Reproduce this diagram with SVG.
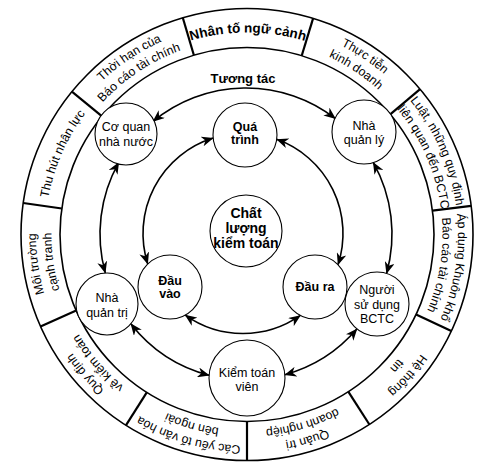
<svg xmlns="http://www.w3.org/2000/svg" xmlns:xlink="http://www.w3.org/1999/xlink" width="500" height="472" viewBox="0 0 500 472">
<style>
.ring{fill:none;stroke:#000;stroke-width:1.6}
.div{stroke:#000;stroke-width:2.2}
.node{fill:#fff;stroke:#000;stroke-width:1.1}
.arc{fill:none;stroke:#000;stroke-width:1.6;marker-start:url(#ah);marker-end:url(#ah)}
text{font-family:"Liberation Sans",Arial,sans-serif;fill:#000}
.rt{font-size:12.3px}
.nt{font-size:12.5px;text-anchor:middle}
.bt{font-size:12.5px;font-weight:bold;text-anchor:middle}
.ct{font-size:14px;font-weight:bold;text-anchor:middle}
</style>
<defs>
<marker id="ah" viewBox="0 0 12 10" refX="11.5" refY="5" markerWidth="12" markerHeight="10" markerUnits="userSpaceOnUse" orient="auto-start-reverse">
<path d="M0,0 L12,5 L0,10 L3.5,5 z" fill="#000"/>
</marker>
<path id="p1" d="M247,445.5 A211,211 0 1 1 247,23.5 A211,211 0 1 1 247,445.5"/>
<path id="p2" d="M247,430 A195.5,195.5 0 1 1 247,39 A195.5,195.5 0 1 1 247,430"/>
<path id="ps" d="M247,436.5 A202,202 0 1 1 247,32.5 A202,202 0 1 1 247,436.5"/>
</defs>
<rect width="500" height="472" fill="#fff"/>

<g id="context-ring">
<circle class="ring" cx="247" cy="234.5" r="226"/>
<circle class="ring" cx="247" cy="234.5" r="187"/>
<line class="div" x1="193.9" y1="55.2" x2="182.8" y2="17.8"/>
<line class="div" x1="301.7" y1="55.7" x2="313.1" y2="18.4"/>
<line class="div" x1="390.2" y1="114.3" x2="420.1" y2="89.2"/>
<line class="div" x1="432.5" y1="210.7" x2="471.2" y2="205.8"/>
<line class="div" x1="416.1" y1="314.4" x2="451.3" y2="331.1"/>
<line class="div" x1="348.3" y1="391.7" x2="369.4" y2="424.5"/>
<line class="div" x1="247" y1="421.5" x2="247" y2="460.5"/>
<line class="div" x1="146.8" y1="392.4" x2="125.9" y2="425.3"/>
<line class="div" x1="76.2" y1="310.6" x2="40.5" y2="326.4"/>
<line class="div" x1="61.8" y1="208.5" x2="23.2" y2="203.0"/>
<line class="div" x1="102.1" y1="116.3" x2="71.9" y2="91.7"/>
</g>

<g id="seg-nhan-to">
<text style="font-size:13.5px;font-weight:bold" text-anchor="middle"><textPath xlink:href="#ps" href="#ps" startOffset="50.07%">Nhân tố ngữ cảnh</textPath></text>
</g>
<g id="seg-thuc-tien">
<text class="rt" text-anchor="middle"><textPath xlink:href="#p1" href="#p1" startOffset="59.31%">Thực tiễn</textPath></text>
<text class="rt" text-anchor="middle"><textPath xlink:href="#p2" href="#p2" startOffset="59.31%">kinh doanh</textPath></text>
</g>
<g id="seg-luat">
<text class="rt" text-anchor="middle"><textPath xlink:href="#p1" href="#p1" startOffset="68.43%">Luật, những quy định</textPath></text>
<text class="rt" text-anchor="middle"><textPath xlink:href="#p2" href="#p2" startOffset="68.43%">liên quan đến BCTC</textPath></text>
</g>
<g id="seg-ap-dung">
<text class="rt" text-anchor="middle"><textPath xlink:href="#p1" href="#p1" startOffset="77.5%">Áp dụng Khuôn khổ</textPath></text>
<text class="rt" text-anchor="middle"><textPath xlink:href="#p2" href="#p2" startOffset="77.5%">Báo cáo tài chính</textPath></text>
</g>
<g id="seg-he-thong">
<text class="rt" text-anchor="middle"><textPath xlink:href="#p1" href="#p1" startOffset="86.46%">Hệ thống</textPath></text>
<text class="rt" text-anchor="middle"><textPath xlink:href="#p2" href="#p2" startOffset="86.46%">tin</textPath></text>
</g>
<g id="seg-quan-tri-dn">
<text class="rt" text-anchor="middle"><textPath xlink:href="#p1" href="#p1" startOffset="95.44%">Quản trị</textPath></text>
<text class="rt" text-anchor="middle"><textPath xlink:href="#p2" href="#p2" startOffset="95.44%">doanh nghiệp</textPath></text>
</g>
<g id="seg-van-hoa">
<text class="rt" text-anchor="middle"><textPath xlink:href="#p1" href="#p1" startOffset="4.5%">Các yếu tố văn hóa</textPath></text>
<text class="rt" text-anchor="middle"><textPath xlink:href="#p2" href="#p2" startOffset="4.5%">bên ngoài</textPath></text>
</g>
<g id="seg-quy-dinh">
<text class="rt" text-anchor="middle"><textPath xlink:href="#p1" href="#p1" startOffset="13.67%">Quy định</textPath></text>
<text class="rt" text-anchor="middle"><textPath xlink:href="#p2" href="#p2" startOffset="13.67%">về kiểm toán</textPath></text>
</g>
<g id="seg-moi-truong">
<text class="rt" text-anchor="middle"><textPath xlink:href="#p1" href="#p1" startOffset="22.78%">Môi trường</textPath></text>
<text class="rt" text-anchor="middle"><textPath xlink:href="#p2" href="#p2" startOffset="22.78%">cạnh tranh</textPath></text>
</g>
<g id="seg-thu-hut">
<text class="rt" text-anchor="middle"><textPath xlink:href="#ps" href="#ps" startOffset="31.56%">Thu hút nhân lực</textPath></text>
</g>
<g id="seg-thoi-han">
<text class="rt" text-anchor="middle"><textPath xlink:href="#p1" href="#p1" startOffset="40.65%">Thời hạn của</textPath></text>
<text class="rt" text-anchor="middle"><textPath xlink:href="#p2" href="#p2" startOffset="40.65%">Báo cáo tài chính</textPath></text>
</g>

<g id="connectors">
<path class="arc" d="M152.94,121.51 A146,146 0 0 1 335.48,118.63"/>
<path class="arc" d="M373.2,162.33 A146,146 0 0 1 386.55,273.51"/>
<path class="arc" d="M357.02,328.81 A146,146 0 0 1 284.78,374.76"/>
<path class="arc" d="M209.19,375.28 A146,146 0 0 1 130.79,323.69"/>
<path class="arc" d="M105.31,273.01 A146,146 0 0 1 118.8,162.33"/>
<path class="arc" d="M147.73,263.9 A100,100 0 0 1 213.1,138.08"/>
<path class="arc" d="M276.71,139.35 A100,100 0 0 1 338.0,264.73"/>
<path class="arc" d="M300.36,315.42 A100,100 0 0 1 185.21,315.11"/>
<text class="bt" x="243" y="83" style="font-size:13px">Tương tác</text>
</g>

<g id="co-quan-nha-nuoc">
<circle class="node" cx="126" cy="134" r="31"/>
<text class="nt" x="126" y="131">Cơ quan</text>
<text class="nt" x="126" y="146">nhà nước</text>
</g>
<g id="qua-trinh">
<circle class="node" cx="245" cy="135" r="32"/>
<text class="bt" x="245" y="131">Quá</text>
<text class="bt" x="245" y="144">trình</text>
</g>
<g id="nha-quan-ly">
<circle class="node" cx="364" cy="132" r="32"/>
<text class="nt" x="364" y="130">Nhà</text>
<text class="nt" x="364" y="144">quản lý</text>
</g>
<g id="chat-luong-kiem-toan">
<circle class="node" cx="246" cy="231" r="36"/>
<text class="ct" x="246" y="218">Chất</text>
<text class="ct" x="246" y="233">lượng</text>
<text class="ct" x="246" y="248">kiểm toán</text>
</g>
<g id="dau-vao">
<circle class="node" cx="170" cy="287" r="32"/>
<text class="bt" x="170" y="285">Đầu</text>
<text class="bt" x="170" y="298">vào</text>
</g>
<g id="dau-ra">
<circle class="node" cx="315" cy="287" r="32"/>
<text class="bt" x="315" y="291">Đầu ra</text>
</g>
<g id="nha-quan-tri">
<circle class="node" cx="107" cy="304" r="31"/>
<text class="nt" x="107" y="302">Nhà</text>
<text class="nt" x="107" y="317">quản trị</text>
</g>
<g id="nguoi-su-dung-bctc">
<circle class="node" cx="377" cy="304" r="32"/>
<text class="nt" x="377" y="294">Người</text>
<text class="nt" x="377" y="308.5">sử dụng</text>
<text class="nt" x="377" y="323">BCTC</text>
</g>
<g id="kiem-toan-vien">
<circle class="node" cx="247" cy="378" r="38"/>
<text class="nt" x="247" y="377">Kiểm toán</text>
<text class="nt" x="247" y="391">viên</text>
</g>
</svg>
